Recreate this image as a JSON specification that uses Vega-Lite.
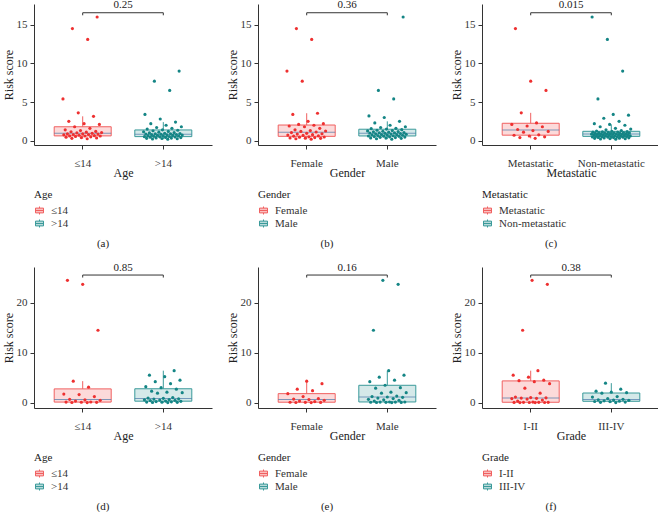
{
"$schema": "https://vega.github.io/schema/vega-lite/v6.json",
"padding": {"left": 2, "top": -1, "right": 0, "bottom": 0},
"config": {
  "font": "Liberation Serif",
  "view": {"stroke": null},
  "axis": {"labelFont": "Liberation Serif", "titleFont": "Liberation Serif", "labelFontSize": 11, "titleFontSize": 12, "titleFontWeight": "normal", "grid": false, "tickSize": 4, "domainColor": "#333333", "tickColor": "#333333", "labelColor": "#333333", "titleColor": "#222222"},
  "axisX": {"labelPadding": 8, "titlePadding": -1, "labelAngle": 0},
  "axisY": {"labelPadding": 3, "titlePadding": 1},
  "legend": {"titleFont": "Liberation Serif", "labelFont": "Liberation Serif", "titleFontSize": 11, "labelFontSize": 11, "titleFontWeight": "normal", "titleColor": "#222222", "labelColor": "#333333", "orient": "none", "legendX": 0, "legendY": 185, "symbolType": "M-1,-0.6H1V0.6H-1Z M-1,0H1 M0,-1V-0.6 M0,0.6V1", "symbolSize": 64, "labelOffset": 6, "rowPadding": 0, "titlePadding": 5},
  "title": {"font": "Liberation Serif", "fontSize": 11, "fontWeight": "normal", "color": "#222222"},
  "boxplot": {"extent": 1.5, "size": 57, "box": {"fillOpacity": 0.18, "strokeWidth": 1}, "median": {"strokeWidth": 0, "thickness": 1}, "rule": {"strokeWidth": 1}},
  "circle": {"size": 10, "opacity": 1},
  "text": {"baseline": "alphabetic", "fontSize": 11, "color": "#222222"}
},
"columns": 3,
"spacing": {"row": 122, "column": 46},
"bounds": "flush",
"resolve": {"scale": {"x": "independent", "y": "independent", "color": "independent", "stroke": "independent"}, "legend": {"color": "independent", "stroke": "independent"}},
"concat": [
{
  "width": 178, "height": 141,
  "title": {"text": "(a)", "orient": "bottom", "anchor": "middle", "dx": -20, "offset": 8},
  "data": {"values": [
{"group":"≤14","risk":0.25},{"group":"≤14","risk":0.3},{"group":"≤14","risk":0.35},{"group":"≤14","risk":0.4},{"group":"≤14","risk":0.45},{"group":"≤14","risk":0.5},{"group":"≤14","risk":0.55},{"group":"≤14","risk":0.6},{"group":"≤14","risk":0.6},{"group":"≤14","risk":0.62},{"group":"≤14","risk":0.65},{"group":"≤14","risk":0.7},{"group":"≤14","risk":0.75},{"group":"≤14","risk":0.8},{"group":"≤14","risk":0.8},{"group":"≤14","risk":0.85},{"group":"≤14","risk":0.9},{"group":"≤14","risk":0.9},{"group":"≤14","risk":0.95},{"group":"≤14","risk":1.0},{"group":"≤14","risk":1.05},{"group":"≤14","risk":1.1},{"group":"≤14","risk":1.15},{"group":"≤14","risk":1.2},{"group":"≤14","risk":1.3},{"group":"≤14","risk":1.4},{"group":"≤14","risk":1.6},{"group":"≤14","risk":1.8},{"group":"≤14","risk":2.1},{"group":"≤14","risk":2.2},{"group":"≤14","risk":2.5},{"group":"≤14","risk":3.15},{"group":"≤14","risk":3.6},{"group":"≤14","risk":5.4},{"group":"≤14","risk":13.1},{"group":"≤14","risk":14.5},{"group":"≤14","risk":16.0},
{"group":">14","risk":0.2},{"group":">14","risk":0.22},{"group":">14","risk":0.25},{"group":">14","risk":0.28},{"group":">14","risk":0.3},{"group":">14","risk":0.33},{"group":">14","risk":0.36},{"group":">14","risk":0.4},{"group":">14","risk":0.42},{"group":">14","risk":0.45},{"group":">14","risk":0.48},{"group":">14","risk":0.5},{"group":">14","risk":0.52},{"group":">14","risk":0.54},{"group":">14","risk":0.56},{"group":">14","risk":0.6},{"group":">14","risk":0.62},{"group":">14","risk":0.65},{"group":">14","risk":0.68},{"group":">14","risk":0.7},{"group":">14","risk":0.72},{"group":">14","risk":0.75},{"group":">14","risk":0.78},{"group":">14","risk":0.8},{"group":">14","risk":0.82},{"group":">14","risk":0.85},{"group":">14","risk":0.88},{"group":">14","risk":0.9},{"group":">14","risk":0.93},{"group":">14","risk":0.96},{"group":">14","risk":1.0},{"group":">14","risk":1.05},{"group":">14","risk":1.1},{"group":">14","risk":1.15},{"group":">14","risk":1.2},{"group":">14","risk":1.28},{"group":">14","risk":1.35},{"group":">14","risk":1.4},{"group":">14","risk":1.5},{"group":">14","risk":1.6},{"group":">14","risk":1.7},{"group":">14","risk":1.8},{"group":">14","risk":2.0},{"group":">14","risk":2.2},{"group":">14","risk":2.4},{"group":">14","risk":2.8},{"group":">14","risk":3.4},{"group":">14","risk":6.5},{"group":">14","risk":7.7},{"group":">14","risk":9.0}
  ]},
  "layer": [
    {"mark": {"type": "boxplot", "outliers": false},
     "encoding": {
      "x": {"field": "group", "type": "nominal", "scale": {"domain": ["≤14", ">14"], "paddingInner": 0.2, "paddingOuter": 0.204}, "axis": {"title": "Age"}},
      "y": {"field": "risk", "type": "quantitative", "scale": {"domain": [-0.56, 17.68], "nice": false, "zero": false}, "axis": {"title": "Risk score", "values": [0, 5, 10, 15]}},
      "color": {"field": "group", "type": "nominal", "scale": {"domain": ["≤14", ">14"], "range": ["#EE3030", "#148585"]}, "legend": {"title": "Age", "encode": {"symbols": {"update": {"fillOpacity": {"value": 0.3}, "strokeWidth": {"value": 1}, "opacity": {"value": 1}}}}}},
      "stroke": {"field": "group", "type": "nominal", "scale": {"domain": ["≤14", ">14"], "range": ["#F06060", "#3A9A9A"]}, "legend": {"title": "Age", "encode": {"symbols": {"update": {"fillOpacity": {"value": 0.3}, "strokeWidth": {"value": 1}, "opacity": {"value": 1}}}}}}
     }},
    {"transform": [{"window": [{"op": "row_number", "as": "rn"}], "groupby": ["group"]}, {"calculate": "((datum.rn * 0.6180339887) % 1) - 0.5", "as": "jit"}],
     "mark": {"type": "circle"},
     "encoding": {
      "x": {"field": "group", "type": "nominal"},
      "xOffset": {"field": "jit", "type": "quantitative", "scale": {"domain": [-0.5, 0.5], "range": [12, 52]}},
      "y": {"field": "risk", "type": "quantitative"},
      "color": {"field": "group", "type": "nominal"}
     }},
    {"data": {"values": [{}]}, "mark": {"type": "rule", "color": "#333333"}, "encoding": {"x": {"datum": "≤14", "type": "nominal"}, "x2": {"datum": ">14"}, "y": {"datum": 16.55, "type": "quantitative"}}},
    {"data": {"values": [{}]}, "mark": {"type": "rule", "color": "#333333"}, "encoding": {"x": {"datum": "≤14", "type": "nominal"}, "y": {"datum": 16.22, "type": "quantitative"}, "y2": {"datum": 16.55}}},
    {"data": {"values": [{}]}, "mark": {"type": "rule", "color": "#333333"}, "encoding": {"x": {"datum": ">14", "type": "nominal"}, "y": {"datum": 16.22, "type": "quantitative"}, "y2": {"datum": 16.55}}},
    {"data": {"values": [{}]}, "mark": {"type": "text"}, "encoding": {"y": {"datum": 17.15, "type": "quantitative"}, "text": {"value": "0.25"}}}
  ]
},
{
  "width": 178, "height": 141,
  "title": {"text": "(b)", "orient": "bottom", "anchor": "middle", "dx": -20, "offset": 8},
  "data": {"values": [
{"group":"Female","risk":0.2},{"group":"Female","risk":0.25},{"group":"Female","risk":0.3},{"group":"Female","risk":0.32},{"group":"Female","risk":0.35},{"group":"Female","risk":0.4},{"group":"Female","risk":0.45},{"group":"Female","risk":0.48},{"group":"Female","risk":0.5},{"group":"Female","risk":0.58},{"group":"Female","risk":0.62},{"group":"Female","risk":0.68},{"group":"Female","risk":0.72},{"group":"Female","risk":0.78},{"group":"Female","risk":0.85},{"group":"Female","risk":0.9},{"group":"Female","risk":0.95},{"group":"Female","risk":1.05},{"group":"Female","risk":1.12},{"group":"Female","risk":1.2},{"group":"Female","risk":1.25},{"group":"Female","risk":1.3},{"group":"Female","risk":1.4},{"group":"Female","risk":1.6},{"group":"Female","risk":1.8},{"group":"Female","risk":1.9},{"group":"Female","risk":2.0},{"group":"Female","risk":2.1},{"group":"Female","risk":2.2},{"group":"Female","risk":2.5},{"group":"Female","risk":3.4},{"group":"Female","risk":3.55},{"group":"Female","risk":7.7},{"group":"Female","risk":9.0},{"group":"Female","risk":13.1},{"group":"Female","risk":14.5},
{"group":"Male","risk":0.2},{"group":"Male","risk":0.25},{"group":"Male","risk":0.3},{"group":"Male","risk":0.33},{"group":"Male","risk":0.36},{"group":"Male","risk":0.4},{"group":"Male","risk":0.43},{"group":"Male","risk":0.46},{"group":"Male","risk":0.5},{"group":"Male","risk":0.53},{"group":"Male","risk":0.56},{"group":"Male","risk":0.58},{"group":"Male","risk":0.6},{"group":"Male","risk":0.64},{"group":"Male","risk":0.66},{"group":"Male","risk":0.7},{"group":"Male","risk":0.72},{"group":"Male","risk":0.75},{"group":"Male","risk":0.78},{"group":"Male","risk":0.8},{"group":"Male","risk":0.83},{"group":"Male","risk":0.86},{"group":"Male","risk":0.9},{"group":"Male","risk":0.93},{"group":"Male","risk":0.95},{"group":"Male","risk":0.98},{"group":"Male","risk":1.0},{"group":"Male","risk":1.03},{"group":"Male","risk":1.06},{"group":"Male","risk":1.1},{"group":"Male","risk":1.14},{"group":"Male","risk":1.18},{"group":"Male","risk":1.22},{"group":"Male","risk":1.26},{"group":"Male","risk":1.3},{"group":"Male","risk":1.35},{"group":"Male","risk":1.42},{"group":"Male","risk":1.5},{"group":"Male","risk":1.55},{"group":"Male","risk":1.6},{"group":"Male","risk":1.7},{"group":"Male","risk":1.8},{"group":"Male","risk":2.0},{"group":"Male","risk":2.3},{"group":"Male","risk":2.5},{"group":"Male","risk":3.0},{"group":"Male","risk":3.2},{"group":"Male","risk":5.4},{"group":"Male","risk":6.5},{"group":"Male","risk":16.0}
  ]},
  "layer": [
    {"mark": {"type": "boxplot", "outliers": false},
     "encoding": {
      "x": {"field": "group", "type": "nominal", "scale": {"domain": ["Female", "Male"], "paddingInner": 0.2, "paddingOuter": 0.204}, "axis": {"title": "Gender"}},
      "y": {"field": "risk", "type": "quantitative", "scale": {"domain": [-0.56, 17.68], "nice": false, "zero": false}, "axis": {"title": "Risk score", "values": [0, 5, 10, 15]}},
      "color": {"field": "group", "type": "nominal", "scale": {"domain": ["Female", "Male"], "range": ["#EE3030", "#148585"]}, "legend": {"title": "Gender", "encode": {"symbols": {"update": {"fillOpacity": {"value": 0.3}, "strokeWidth": {"value": 1}, "opacity": {"value": 1}}}}}},
      "stroke": {"field": "group", "type": "nominal", "scale": {"domain": ["Female", "Male"], "range": ["#F06060", "#3A9A9A"]}, "legend": {"title": "Gender", "encode": {"symbols": {"update": {"fillOpacity": {"value": 0.3}, "strokeWidth": {"value": 1}, "opacity": {"value": 1}}}}}}
     }},
    {"transform": [{"window": [{"op": "row_number", "as": "rn"}], "groupby": ["group"]}, {"calculate": "((datum.rn * 0.6180339887) % 1) - 0.5", "as": "jit"}],
     "mark": {"type": "circle"},
     "encoding": {
      "x": {"field": "group", "type": "nominal"},
      "xOffset": {"field": "jit", "type": "quantitative", "scale": {"domain": [-0.5, 0.5], "range": [12, 52]}},
      "y": {"field": "risk", "type": "quantitative"},
      "color": {"field": "group", "type": "nominal"}
     }},
    {"data": {"values": [{}]}, "mark": {"type": "rule", "color": "#333333"}, "encoding": {"x": {"datum": "Female", "type": "nominal"}, "x2": {"datum": "Male"}, "y": {"datum": 16.55, "type": "quantitative"}}},
    {"data": {"values": [{}]}, "mark": {"type": "rule", "color": "#333333"}, "encoding": {"x": {"datum": "Female", "type": "nominal"}, "y": {"datum": 16.22, "type": "quantitative"}, "y2": {"datum": 16.55}}},
    {"data": {"values": [{}]}, "mark": {"type": "rule", "color": "#333333"}, "encoding": {"x": {"datum": "Male", "type": "nominal"}, "y": {"datum": 16.22, "type": "quantitative"}, "y2": {"datum": 16.55}}},
    {"data": {"values": [{}]}, "mark": {"type": "text"}, "encoding": {"y": {"datum": 17.15, "type": "quantitative"}, "text": {"value": "0.36"}}}
  ]
},
{
  "width": 178, "height": 141,
  "title": {"text": "(c)", "orient": "bottom", "anchor": "middle", "dx": -20, "offset": 8},
  "data": {"values": [
{"group":"Metastatic","risk":0.3},{"group":"Metastatic","risk":0.4},{"group":"Metastatic","risk":0.5},{"group":"Metastatic","risk":0.6},{"group":"Metastatic","risk":0.7},{"group":"Metastatic","risk":0.75},{"group":"Metastatic","risk":1.1},{"group":"Metastatic","risk":1.2},{"group":"Metastatic","risk":1.3},{"group":"Metastatic","risk":1.45},{"group":"Metastatic","risk":1.8},{"group":"Metastatic","risk":1.9},{"group":"Metastatic","risk":2.1},{"group":"Metastatic","risk":2.3},{"group":"Metastatic","risk":3.6},{"group":"Metastatic","risk":6.5},{"group":"Metastatic","risk":7.7},{"group":"Metastatic","risk":14.5},
{"group":"Non-metastatic","risk":0.2},{"group":"Non-metastatic","risk":0.22},{"group":"Non-metastatic","risk":0.25},{"group":"Non-metastatic","risk":0.27},{"group":"Non-metastatic","risk":0.3},{"group":"Non-metastatic","risk":0.32},{"group":"Non-metastatic","risk":0.35},{"group":"Non-metastatic","risk":0.37},{"group":"Non-metastatic","risk":0.4},{"group":"Non-metastatic","risk":0.42},{"group":"Non-metastatic","risk":0.44},{"group":"Non-metastatic","risk":0.46},{"group":"Non-metastatic","risk":0.48},{"group":"Non-metastatic","risk":0.5},{"group":"Non-metastatic","risk":0.52},{"group":"Non-metastatic","risk":0.53},{"group":"Non-metastatic","risk":0.54},{"group":"Non-metastatic","risk":0.56},{"group":"Non-metastatic","risk":0.58},{"group":"Non-metastatic","risk":0.6},{"group":"Non-metastatic","risk":0.62},{"group":"Non-metastatic","risk":0.64},{"group":"Non-metastatic","risk":0.66},{"group":"Non-metastatic","risk":0.68},{"group":"Non-metastatic","risk":0.7},{"group":"Non-metastatic","risk":0.72},{"group":"Non-metastatic","risk":0.74},{"group":"Non-metastatic","risk":0.76},{"group":"Non-metastatic","risk":0.78},{"group":"Non-metastatic","risk":0.8},{"group":"Non-metastatic","risk":0.81},{"group":"Non-metastatic","risk":0.82},{"group":"Non-metastatic","risk":0.83},{"group":"Non-metastatic","risk":0.84},{"group":"Non-metastatic","risk":0.86},{"group":"Non-metastatic","risk":0.88},{"group":"Non-metastatic","risk":0.9},{"group":"Non-metastatic","risk":0.92},{"group":"Non-metastatic","risk":0.94},{"group":"Non-metastatic","risk":0.96},{"group":"Non-metastatic","risk":0.98},{"group":"Non-metastatic","risk":1.0},{"group":"Non-metastatic","risk":1.02},{"group":"Non-metastatic","risk":1.04},{"group":"Non-metastatic","risk":1.06},{"group":"Non-metastatic","risk":1.08},{"group":"Non-metastatic","risk":1.1},{"group":"Non-metastatic","risk":1.12},{"group":"Non-metastatic","risk":1.14},{"group":"Non-metastatic","risk":1.16},{"group":"Non-metastatic","risk":1.2},{"group":"Non-metastatic","risk":1.25},{"group":"Non-metastatic","risk":1.3},{"group":"Non-metastatic","risk":1.4},{"group":"Non-metastatic","risk":1.5},{"group":"Non-metastatic","risk":1.6},{"group":"Non-metastatic","risk":1.8},{"group":"Non-metastatic","risk":2.0},{"group":"Non-metastatic","risk":2.1},{"group":"Non-metastatic","risk":2.2},{"group":"Non-metastatic","risk":2.5},{"group":"Non-metastatic","risk":2.9},{"group":"Non-metastatic","risk":3.3},{"group":"Non-metastatic","risk":3.4},{"group":"Non-metastatic","risk":5.4},{"group":"Non-metastatic","risk":9.0},{"group":"Non-metastatic","risk":13.1},{"group":"Non-metastatic","risk":16.0}
  ]},
  "layer": [
    {"mark": {"type": "boxplot", "outliers": false},
     "encoding": {
      "x": {"field": "group", "type": "nominal", "scale": {"domain": ["Metastatic", "Non-metastatic"], "paddingInner": 0.2, "paddingOuter": 0.204}, "axis": {"title": "Metastatic"}},
      "y": {"field": "risk", "type": "quantitative", "scale": {"domain": [-0.56, 17.68], "nice": false, "zero": false}, "axis": {"title": "Risk score", "values": [0, 5, 10, 15]}},
      "color": {"field": "group", "type": "nominal", "scale": {"domain": ["Metastatic", "Non-metastatic"], "range": ["#EE3030", "#148585"]}, "legend": {"title": "Metastatic", "encode": {"symbols": {"update": {"fillOpacity": {"value": 0.3}, "strokeWidth": {"value": 1}, "opacity": {"value": 1}}}}}},
      "stroke": {"field": "group", "type": "nominal", "scale": {"domain": ["Metastatic", "Non-metastatic"], "range": ["#F06060", "#3A9A9A"]}, "legend": {"title": "Metastatic", "encode": {"symbols": {"update": {"fillOpacity": {"value": 0.3}, "strokeWidth": {"value": 1}, "opacity": {"value": 1}}}}}}
     }},
    {"transform": [{"window": [{"op": "row_number", "as": "rn"}], "groupby": ["group"]}, {"calculate": "((datum.rn * 0.6180339887) % 1) - 0.5", "as": "jit"}],
     "mark": {"type": "circle"},
     "encoding": {
      "x": {"field": "group", "type": "nominal"},
      "xOffset": {"field": "jit", "type": "quantitative", "scale": {"domain": [-0.5, 0.5], "range": [12, 52]}},
      "y": {"field": "risk", "type": "quantitative"},
      "color": {"field": "group", "type": "nominal"}
     }},
    {"data": {"values": [{}]}, "mark": {"type": "rule", "color": "#333333"}, "encoding": {"x": {"datum": "Metastatic", "type": "nominal"}, "x2": {"datum": "Non-metastatic"}, "y": {"datum": 16.55, "type": "quantitative"}}},
    {"data": {"values": [{}]}, "mark": {"type": "rule", "color": "#333333"}, "encoding": {"x": {"datum": "Metastatic", "type": "nominal"}, "y": {"datum": 16.22, "type": "quantitative"}, "y2": {"datum": 16.55}}},
    {"data": {"values": [{}]}, "mark": {"type": "rule", "color": "#333333"}, "encoding": {"x": {"datum": "Non-metastatic", "type": "nominal"}, "y": {"datum": 16.22, "type": "quantitative"}, "y2": {"datum": 16.55}}},
    {"data": {"values": [{}]}, "mark": {"type": "text"}, "encoding": {"y": {"datum": 17.15, "type": "quantitative"}, "text": {"value": "0.015"}}}
  ]
},
{
  "width": 178, "height": 141,
  "title": {"text": "(d)", "orient": "bottom", "anchor": "middle", "dx": -20, "offset": 8},
  "data": {"values": [
{"group":"≤14","risk":0.0},{"group":"≤14","risk":0.02},{"group":"≤14","risk":0.05},{"group":"≤14","risk":0.08},{"group":"≤14","risk":0.1},{"group":"≤14","risk":0.12},{"group":"≤14","risk":0.3},{"group":"≤14","risk":0.45},{"group":"≤14","risk":0.55},{"group":"≤14","risk":0.65},{"group":"≤14","risk":1.2},{"group":"≤14","risk":1.6},{"group":"≤14","risk":1.7},{"group":"≤14","risk":3.1},{"group":"≤14","risk":4.3},{"group":"≤14","risk":14.5},{"group":"≤14","risk":23.7},{"group":"≤14","risk":24.5},
{"group":">14","risk":0.0},{"group":">14","risk":0.02},{"group":">14","risk":0.05},{"group":">14","risk":0.08},{"group":">14","risk":0.1},{"group":">14","risk":0.15},{"group":">14","risk":0.2},{"group":">14","risk":0.25},{"group":">14","risk":0.3},{"group":">14","risk":0.4},{"group":">14","risk":0.45},{"group":">14","risk":0.5},{"group":">14","risk":0.55},{"group":">14","risk":0.6},{"group":">14","risk":0.7},{"group":">14","risk":0.75},{"group":">14","risk":0.85},{"group":">14","risk":0.9},{"group":">14","risk":1.0},{"group":">14","risk":1.9},{"group":">14","risk":2.0},{"group":">14","risk":2.1},{"group":">14","risk":2.3},{"group":">14","risk":2.7},{"group":">14","risk":3.0},{"group":">14","risk":3.2},{"group":">14","risk":3.8},{"group":">14","risk":4.2},{"group":">14","risk":4.5},{"group":">14","risk":5.2},{"group":">14","risk":5.5},{"group":">14","risk":6.4}
  ]},
  "layer": [
    {"mark": {"type": "boxplot", "outliers": false},
     "encoding": {
      "x": {"field": "group", "type": "nominal", "scale": {"domain": ["≤14", ">14"], "paddingInner": 0.2, "paddingOuter": 0.204}, "axis": {"title": "Age"}},
      "y": {"field": "risk", "type": "quantitative", "scale": {"domain": [-1.08, 27.17], "nice": false, "zero": false}, "axis": {"title": "Risk score", "values": [0, 10, 20]}},
      "color": {"field": "group", "type": "nominal", "scale": {"domain": ["≤14", ">14"], "range": ["#EE3030", "#148585"]}, "legend": {"title": "Age", "encode": {"symbols": {"update": {"fillOpacity": {"value": 0.3}, "strokeWidth": {"value": 1}, "opacity": {"value": 1}}}}}},
      "stroke": {"field": "group", "type": "nominal", "scale": {"domain": ["≤14", ">14"], "range": ["#F06060", "#3A9A9A"]}, "legend": {"title": "Age", "encode": {"symbols": {"update": {"fillOpacity": {"value": 0.3}, "strokeWidth": {"value": 1}, "opacity": {"value": 1}}}}}}
     }},
    {"transform": [{"window": [{"op": "row_number", "as": "rn"}], "groupby": ["group"]}, {"calculate": "((datum.rn * 0.6180339887) % 1) - 0.5", "as": "jit"}],
     "mark": {"type": "circle"},
     "encoding": {
      "x": {"field": "group", "type": "nominal"},
      "xOffset": {"field": "jit", "type": "quantitative", "scale": {"domain": [-0.5, 0.5], "range": [12, 52]}},
      "y": {"field": "risk", "type": "quantitative"},
      "color": {"field": "group", "type": "nominal"}
     }},
    {"data": {"values": [{}]}, "mark": {"type": "rule", "color": "#333333"}, "encoding": {"x": {"datum": "≤14", "type": "nominal"}, "x2": {"datum": ">14"}, "y": {"datum": 25.56, "type": "quantitative"}}},
    {"data": {"values": [{}]}, "mark": {"type": "rule", "color": "#333333"}, "encoding": {"x": {"datum": "≤14", "type": "nominal"}, "y": {"datum": 25.06, "type": "quantitative"}, "y2": {"datum": 25.56}}},
    {"data": {"values": [{}]}, "mark": {"type": "rule", "color": "#333333"}, "encoding": {"x": {"datum": ">14", "type": "nominal"}, "y": {"datum": 25.06, "type": "quantitative"}, "y2": {"datum": 25.56}}},
    {"data": {"values": [{}]}, "mark": {"type": "text"}, "encoding": {"y": {"datum": 26.4, "type": "quantitative"}, "text": {"value": "0.85"}}}
  ]
},
{
  "width": 178, "height": 141,
  "title": {"text": "(e)", "orient": "bottom", "anchor": "middle", "dx": -20, "offset": 8},
  "data": {"values": [
{"group":"Female","risk":0.0},{"group":"Female","risk":0.02},{"group":"Female","risk":0.04},{"group":"Female","risk":0.06},{"group":"Female","risk":0.08},{"group":"Female","risk":0.2},{"group":"Female","risk":0.3},{"group":"Female","risk":0.45},{"group":"Female","risk":0.6},{"group":"Female","risk":0.7},{"group":"Female","risk":0.8},{"group":"Female","risk":1.2},{"group":"Female","risk":1.8},{"group":"Female","risk":2.4},{"group":"Female","risk":2.7},{"group":"Female","risk":3.8},{"group":"Female","risk":4.3},
{"group":"Male","risk":0.0},{"group":"Male","risk":0.02},{"group":"Male","risk":0.04},{"group":"Male","risk":0.06},{"group":"Male","risk":0.08},{"group":"Male","risk":0.1},{"group":"Male","risk":0.1},{"group":"Male","risk":0.12},{"group":"Male","risk":0.13},{"group":"Male","risk":0.3},{"group":"Male","risk":0.45},{"group":"Male","risk":0.55},{"group":"Male","risk":0.65},{"group":"Male","risk":0.8},{"group":"Male","risk":0.9},{"group":"Male","risk":1.05},{"group":"Male","risk":1.13},{"group":"Male","risk":1.2},{"group":"Male","risk":1.3},{"group":"Male","risk":1.9},{"group":"Male","risk":2.0},{"group":"Male","risk":2.1},{"group":"Male","risk":2.9},{"group":"Male","risk":3.0},{"group":"Male","risk":3.47},{"group":"Male","risk":4.2},{"group":"Male","risk":4.5},{"group":"Male","risk":5.1},{"group":"Male","risk":5.5},{"group":"Male","risk":6.4},{"group":"Male","risk":14.5},{"group":"Male","risk":23.7},{"group":"Male","risk":24.5}
  ]},
  "layer": [
    {"mark": {"type": "boxplot", "outliers": false},
     "encoding": {
      "x": {"field": "group", "type": "nominal", "scale": {"domain": ["Female", "Male"], "paddingInner": 0.2, "paddingOuter": 0.204}, "axis": {"title": "Gender"}},
      "y": {"field": "risk", "type": "quantitative", "scale": {"domain": [-1.08, 27.17], "nice": false, "zero": false}, "axis": {"title": "Risk score", "values": [0, 10, 20]}},
      "color": {"field": "group", "type": "nominal", "scale": {"domain": ["Female", "Male"], "range": ["#EE3030", "#148585"]}, "legend": {"title": "Gender", "encode": {"symbols": {"update": {"fillOpacity": {"value": 0.3}, "strokeWidth": {"value": 1}, "opacity": {"value": 1}}}}}},
      "stroke": {"field": "group", "type": "nominal", "scale": {"domain": ["Female", "Male"], "range": ["#F06060", "#3A9A9A"]}, "legend": {"title": "Gender", "encode": {"symbols": {"update": {"fillOpacity": {"value": 0.3}, "strokeWidth": {"value": 1}, "opacity": {"value": 1}}}}}}
     }},
    {"transform": [{"window": [{"op": "row_number", "as": "rn"}], "groupby": ["group"]}, {"calculate": "((datum.rn * 0.6180339887) % 1) - 0.5", "as": "jit"}],
     "mark": {"type": "circle"},
     "encoding": {
      "x": {"field": "group", "type": "nominal"},
      "xOffset": {"field": "jit", "type": "quantitative", "scale": {"domain": [-0.5, 0.5], "range": [12, 52]}},
      "y": {"field": "risk", "type": "quantitative"},
      "color": {"field": "group", "type": "nominal"}
     }},
    {"data": {"values": [{}]}, "mark": {"type": "rule", "color": "#333333"}, "encoding": {"x": {"datum": "Female", "type": "nominal"}, "x2": {"datum": "Male"}, "y": {"datum": 25.56, "type": "quantitative"}}},
    {"data": {"values": [{}]}, "mark": {"type": "rule", "color": "#333333"}, "encoding": {"x": {"datum": "Female", "type": "nominal"}, "y": {"datum": 25.06, "type": "quantitative"}, "y2": {"datum": 25.56}}},
    {"data": {"values": [{}]}, "mark": {"type": "rule", "color": "#333333"}, "encoding": {"x": {"datum": "Male", "type": "nominal"}, "y": {"datum": 25.06, "type": "quantitative"}, "y2": {"datum": 25.56}}},
    {"data": {"values": [{}]}, "mark": {"type": "text"}, "encoding": {"y": {"datum": 26.4, "type": "quantitative"}, "text": {"value": "0.16"}}}
  ]
},
{
  "width": 178, "height": 141,
  "title": {"text": "(f)", "orient": "bottom", "anchor": "middle", "dx": -20, "offset": 8},
  "data": {"values": [
{"group":"I-II","risk":0.0},{"group":"I-II","risk":0.0},{"group":"I-II","risk":0.02},{"group":"I-II","risk":0.03},{"group":"I-II","risk":0.04},{"group":"I-II","risk":0.05},{"group":"I-II","risk":0.05},{"group":"I-II","risk":0.06},{"group":"I-II","risk":0.1},{"group":"I-II","risk":0.3},{"group":"I-II","risk":0.5},{"group":"I-II","risk":0.7},{"group":"I-II","risk":0.8},{"group":"I-II","risk":0.85},{"group":"I-II","risk":0.9},{"group":"I-II","risk":0.95},{"group":"I-II","risk":1.0},{"group":"I-II","risk":1.1},{"group":"I-II","risk":1.9},{"group":"I-II","risk":2.9},{"group":"I-II","risk":3.8},{"group":"I-II","risk":4.2},{"group":"I-II","risk":4.4},{"group":"I-II","risk":4.5},{"group":"I-II","risk":5.1},{"group":"I-II","risk":5.5},{"group":"I-II","risk":6.4},{"group":"I-II","risk":14.5},{"group":"I-II","risk":23.7},{"group":"I-II","risk":24.5},
{"group":"III-IV","risk":0.0},{"group":"III-IV","risk":0.05},{"group":"III-IV","risk":0.1},{"group":"III-IV","risk":0.2},{"group":"III-IV","risk":0.22},{"group":"III-IV","risk":0.28},{"group":"III-IV","risk":0.35},{"group":"III-IV","risk":0.45},{"group":"III-IV","risk":0.5},{"group":"III-IV","risk":0.55},{"group":"III-IV","risk":0.65},{"group":"III-IV","risk":0.8},{"group":"III-IV","risk":1.1},{"group":"III-IV","risk":1.2},{"group":"III-IV","risk":1.9},{"group":"III-IV","risk":2.0},{"group":"III-IV","risk":2.1},{"group":"III-IV","risk":2.3},{"group":"III-IV","risk":2.7},{"group":"III-IV","risk":3.9}
  ]},
  "layer": [
    {"mark": {"type": "boxplot", "outliers": false},
     "encoding": {
      "x": {"field": "group", "type": "nominal", "scale": {"domain": ["I-II", "III-IV"], "paddingInner": 0.2, "paddingOuter": 0.204}, "axis": {"title": "Grade"}},
      "y": {"field": "risk", "type": "quantitative", "scale": {"domain": [-1.08, 27.17], "nice": false, "zero": false}, "axis": {"title": "Risk score", "values": [0, 10, 20]}},
      "color": {"field": "group", "type": "nominal", "scale": {"domain": ["I-II", "III-IV"], "range": ["#EE3030", "#148585"]}, "legend": {"title": "Grade", "encode": {"symbols": {"update": {"fillOpacity": {"value": 0.3}, "strokeWidth": {"value": 1}, "opacity": {"value": 1}}}}}},
      "stroke": {"field": "group", "type": "nominal", "scale": {"domain": ["I-II", "III-IV"], "range": ["#F06060", "#3A9A9A"]}, "legend": {"title": "Grade", "encode": {"symbols": {"update": {"fillOpacity": {"value": 0.3}, "strokeWidth": {"value": 1}, "opacity": {"value": 1}}}}}}
     }},
    {"transform": [{"window": [{"op": "row_number", "as": "rn"}], "groupby": ["group"]}, {"calculate": "((datum.rn * 0.6180339887) % 1) - 0.5", "as": "jit"}],
     "mark": {"type": "circle"},
     "encoding": {
      "x": {"field": "group", "type": "nominal"},
      "xOffset": {"field": "jit", "type": "quantitative", "scale": {"domain": [-0.5, 0.5], "range": [12, 52]}},
      "y": {"field": "risk", "type": "quantitative"},
      "color": {"field": "group", "type": "nominal"}
     }},
    {"data": {"values": [{}]}, "mark": {"type": "rule", "color": "#333333"}, "encoding": {"x": {"datum": "I-II", "type": "nominal"}, "x2": {"datum": "III-IV"}, "y": {"datum": 25.56, "type": "quantitative"}}},
    {"data": {"values": [{}]}, "mark": {"type": "rule", "color": "#333333"}, "encoding": {"x": {"datum": "I-II", "type": "nominal"}, "y": {"datum": 25.06, "type": "quantitative"}, "y2": {"datum": 25.56}}},
    {"data": {"values": [{}]}, "mark": {"type": "rule", "color": "#333333"}, "encoding": {"x": {"datum": "III-IV", "type": "nominal"}, "y": {"datum": 25.06, "type": "quantitative"}, "y2": {"datum": 25.56}}},
    {"data": {"values": [{}]}, "mark": {"type": "text"}, "encoding": {"y": {"datum": 26.4, "type": "quantitative"}, "text": {"value": "0.38"}}}
  ]
}
]
}
